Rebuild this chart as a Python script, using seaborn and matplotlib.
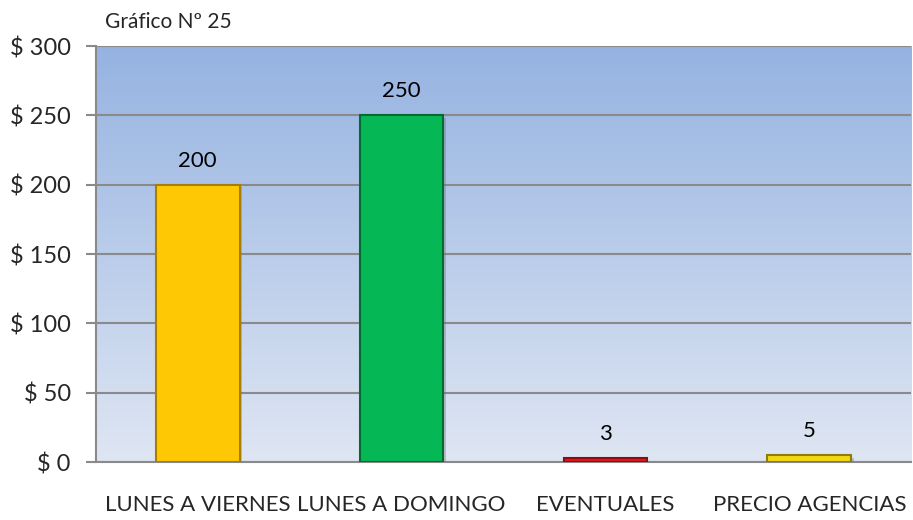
import numpy as np
import pandas as pd
import seaborn as sns
import matplotlib.pyplot as plt
import matplotlib.patheffects as pe

# Chart data
categories = ['LUNES A VIERNES', 'LUNES A DOMINGO', 'EVENTUALES', 'PRECIO AGENCIAS']
values = [200, 250, 3, 5]
bar_colors = ['#FFC805', '#05B855', '#E8141B', '#F2D812']
edge_colors = ['#A87E00', '#036B32', '#8E0B0F', '#8E7E05']
y_ticks = [0, 50, 100, 150, 200, 250, 300]

df = pd.DataFrame({'categoria': categories, 'valor': values})

sns.set_style('white')
plt.rcParams['font.family'] = ['Lato', 'DejaVu Sans']

fig = plt.figure(figsize=(9.13, 5.2), dpi=100)
ax = fig.add_axes([0.105, 0.1115, 0.893, 0.80])

# Gradient background
grad = np.linspace(0, 1, 256).reshape(-1, 1)
top = np.array([0x95, 0xB3, 0xE1]) / 255
bottom = np.array([0xDF, 0xE6, 0xF3]) / 255
img = top * (1 - grad)[..., None] + bottom * grad[..., None]
ax.imshow(img, extent=[-0.5, 3.5, 0, 300], aspect='auto', zorder=0)

sns.barplot(data=df, x='categoria', y='valor', hue='categoria', palette=bar_colors,
            saturation=1, width=0.41, legend=False, ax=ax, zorder=3)
for patch, ec in zip(ax.patches, edge_colors):
    patch.set_edgecolor(ec)
    patch.set_linewidth(1.5)
    patch.set_path_effects([pe.SimplePatchShadow(offset=(2, -2), shadow_rgbFace='#707070', alpha=0.35),
                            pe.Normal()])

# Value labels
for i, v in enumerate(values):
    ax.text(i, v + 10, str(v), ha='center', va='bottom', fontsize=16, color='black')

ax.set_xlim(-0.5, 3.5)
ax.set_ylim(0, 300)
ax.set_yticks(y_ticks)
ax.set_yticklabels([f'$ {t}' for t in y_ticks], fontsize=17)
ax.grid(axis='y', color='#8A8A8A', linewidth=1.5, zorder=1)
ax.set_axisbelow(True)

ax.set_xticks(range(len(categories)))
ax.set_xticklabels(categories, fontsize=16)
ax.set_xticks([0.5, 1.5, 2.5, 3.5], minor=True)
ax.tick_params(axis='x', which='major', length=0, pad=24)
ax.tick_params(axis='x', which='minor', length=7, color='#8A8A8A', width=1.5, direction='out')
ax.tick_params(axis='y', length=7, color='#8A8A8A', width=1.5, direction='out', left=True, pad=11)

for s in ['top', 'right']:
    ax.spines[s].set_visible(False)
for s in ['left', 'bottom']:
    ax.spines[s].set_color('#8A8A8A')
    ax.spines[s].set_linewidth(1.5)

ax.set_xlabel('')
ax.set_ylabel('')

fig.text(0.115, 0.958, 'Gráfico Nº 25', fontsize=15, ha='left', va='center')

plt.savefig('out.png', dpi=100)
